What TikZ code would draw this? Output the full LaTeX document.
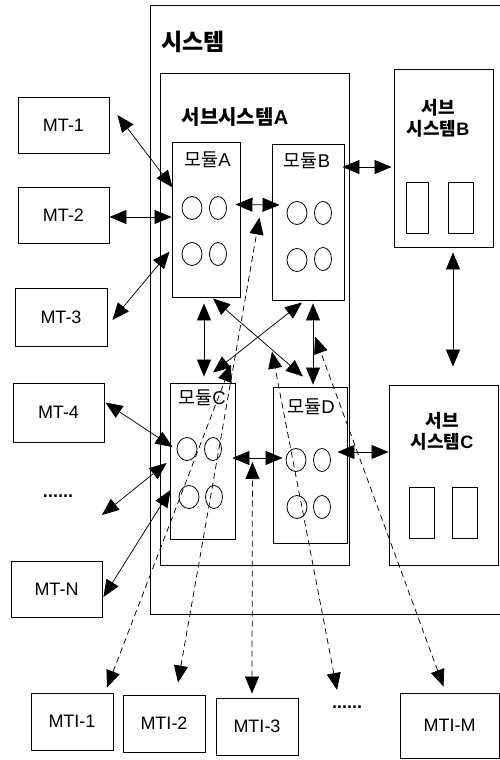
\documentclass[tikz,border=0pt]{standalone}
\usepackage{fontspec}
\setmainfont{Liberation Sans}
\newfontfamily\kr{Noto Sans CJK KR}
\usetikzlibrary{arrows.meta}

\begin{document}
\begin{tikzpicture}[x=1pt,y=-1pt,
	box/.style={draw,line width=0.9pt,inner sep=0pt,font=\fontsize{18}{20}\selectfont},
	lbl/.style={inner sep=0pt,align=center},
	twoway/.style={{Triangle[length=17pt,width=14pt]}-{Triangle[length=17pt,width=14pt]},line width=0.75pt},
	dashway/.style={twoway,dash pattern=on 6pt off 4pt}]
	\useasboundingbox (0,0) rectangle (500,760);
	% system and subsystems
	\node[box,minimum width=370pt,minimum height=609pt] (sys) at (335,309.5) {};
	\node[lbl,font=\kr\bfseries\fontsize{23}{25}\selectfont] (syslbl) at (193,42) {시스템};
	\node[box,minimum width=189pt,minimum height=492pt] (subA) at (254.5,319) {};
	\node[lbl,font=\bfseries\fontsize{20}{22}\selectfont] (subAlbl) at (235,117.5) {{\kr 서브시스템}A};
	\node[box,minimum width=99pt,minimum height=178pt] (subB) at (443.5,158) {};
	\node[lbl,font=\bfseries\fontsize{18}{21}\selectfont] (subBlbl) at (438,118) {{\kr 서브}\\{\kr 시스템}B};
	\node[box,minimum width=109pt,minimum height=180pt] (subC) at (443.5,475) {};
	\node[lbl,font=\bfseries\fontsize{18}{21}\selectfont] (subClbl) at (442,431) {{\kr 서브}\\{\kr 시스템}C};
	\draw[line width=0.9pt] (406,182) rectangle (428,233) (448,182) rectangle (473,233);
	\draw[line width=0.9pt] (409,487) rectangle (434,538) (452,487) rectangle (477,538);
	% modules
	\node[box,minimum width=68pt,minimum height=155pt] (modA) at (206,219.5) {};
	\node[box,minimum width=72pt,minimum height=156pt] (modB) at (308,222) {};
	\node[box,minimum width=65pt,minimum height=156pt] (modC) at (202.5,461) {};
	\node[box,minimum width=74pt,minimum height=156pt] (modD) at (310,465) {};
	\node[lbl,font=\fontsize{18.5}{20}\selectfont] (modAlbl) at (207.5,160) {{\kr 모듈}A};
	\node[lbl,font=\fontsize{18.5}{20}\selectfont] (modBlbl) at (307,161) {{\kr 모듈}B};
	\node[lbl,font=\fontsize{18.5}{20}\selectfont] (modClbl) at (202,398) {{\kr 모듈}C};
	\node[lbl,font=\fontsize{18.5}{20}\selectfont] (modDlbl) at (311,407) {{\kr 모듈}D};
	\foreach \cx/\cy/\rx in {192/208/10,218/208/8.5,192/254/10,218/254/8.5,
		297/213/10,323/213/8.5,297/260/10,323/259/8.5,
		187/449/10,213/449/8.5,189/497/10,214/497/8.5,
		296/460/10,322/460/8.5,297/507/10,322/507/8.5}
		\draw[line width=0.8pt] (\cx,\cy) ellipse[x radius=\rx pt,y radius=11.5pt];
	% terminals
	\node[box,minimum width=91pt,minimum height=56pt] (mt1) at (63.5,125) {MT-1};
	\node[box,minimum width=91pt,minimum height=56pt] (mt2) at (63.5,215) {MT-2};
	\node[box,minimum width=92pt,minimum height=58pt] (mt3) at (61,317) {MT-3};
	\node[box,minimum width=91pt,minimum height=59pt] (mt4) at (58.5,412.5) {MT-4};
	\node[lbl,font=\bfseries\fontsize{18}{20}\selectfont] (dots1) at (58,496) {......};
	\node[box,minimum width=91pt,minimum height=56pt] (mtN) at (56.5,589) {MT-N};
	\node[box,minimum width=82pt,minimum height=57pt] (mti1) at (72,721.5) {MTI-1};
	\node[box,minimum width=82pt,minimum height=57pt] (mti2) at (164,723.5) {MTI-2};
	\node[box,minimum width=82pt,minimum height=57pt] (mti3) at (257,726.5) {MTI-3};
	\node[lbl,font=\bfseries\fontsize{18}{20}\selectfont] (dots2) at (347,707) {......};
	\node[box,minimum width=99pt,minimum height=65pt] (mtiM) at (449.5,725.5) {MTI-M};
	% links
	\draw[twoway] ([shift={(8,-10)}]mt1.east) -- ([shift={(1,-32)}]modA.west);
	\draw[twoway] ([yshift=-2]mt2.east) -- ([yshift=-2]mt2.east -| modA.west);
	\draw[twoway] ([shift={(5,3)}]mt3.east) -- ([shift={(-2,32)}]modA.west);
	\draw[twoway] ([shift={(1,-10)}]mt4.east) -- ([shift={(3,-14)}]modC.west);
	\draw[twoway] ([shift={(44,19)}]dots1.center) -- ([shift={(-3,2)}]modC.west);
	\draw[twoway] ([shift={(1,8)}]mtN.east) -- ([shift={(1,29)}]modC.west);
	\draw[twoway] ([shift={(-5,-15)}]modA.east) -- ([shift={(8,-17)}]modB.west);
	\draw[twoway] ([shift={(-2,-55)}]modB.east) -- ([shift={(-2,9)}]subB.west);
	\draw[twoway] ([shift={(9.5,5)}]subB.south) -- ([shift={(9.5,-18)}]subC.north);
	\draw[twoway] ([shift={(-2,6)}]modA.south) -- ([shift={(1.5,-6)}]modC.north);
	\draw[twoway] ([shift={(7,1)}]modA.south) -- ([shift={(-7,-10)}]modD.north);
	\draw[twoway] ([shift={(-6,2)}]modB.south) -- ([shift={(10.5,-10)}]modC.north);
	\draw[twoway] ([shift={(5,3)}]modB.south) -- ([shift={(3,-2)}]modD.north);
	\draw[twoway] ([shift={(-3,-3)}]modC.east) -- ([shift={(10,-7)}]modD.west);
	\draw[twoway] ([shift={(-10,-13)}]modD.east) -- ([shift={(0,-23)}]subC.west);
	% test lines
	\draw[dashway] ([shift={(35,-5)}]mti1.north) -- ([shift={(28.5,-18)}]modC.north);
	\draw[dashway] ([shift={(14,-12)}]mti2.north) -- ([shift={(19,-2)}]modA.east);
	\draw[dashway] ([shift={(-5,-4)}]mti3.north) -- ([shift={(17,1)}]modC.east);
	\draw[dashway] ([shift={(-10,-17)}]dots2.center) -- ([shift={(-38,-35)}]modD.north);
	\draw[dashway] ([shift={(-6,-6)}]mtiM.north) -- ([shift={(5,-50)}]modD.north);
\end{tikzpicture}
\end{document}
